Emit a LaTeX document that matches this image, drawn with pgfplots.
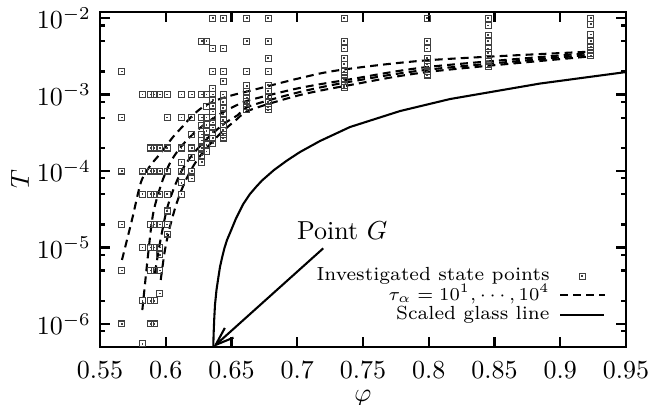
\documentclass[border=0pt]{standalone}
\usepackage{pgfplots}
\pgfplotsset{compat=1.18}
\usetikzlibrary{arrows.meta,calc}

% square with a small dot in the middle (gnuplot style)
\pgfdeclareplotmark{sqdot}{%
  \pgfpathrectangle{\pgfqpoint{-\pgfplotmarksize}{-\pgfplotmarksize}}{\pgfqpoint{2\pgfplotmarksize}{2\pgfplotmarksize}}%
  \pgfusepathqstroke
  \pgfpathrectangle{\pgfqpoint{-0.35pt}{-0.35pt}}{\pgfqpoint{0.7pt}{0.7pt}}%
  \pgfusepathqfill
}

\begin{document}
\begin{tikzpicture}
  \begin{axis}[
    scale only axis,
    width=202.3pt, height=128.85pt,
    ymode=log,
    xmin=0.55, xmax=0.95,
    ymin=5e-7, ymax=1.2e-2,
    xtick={0.55,0.6,0.65,0.7,0.75,0.8,0.85,0.9,0.95},
    xticklabels={0.55,0.6,0.65,0.7,0.75,0.8,0.85,0.9,0.95},
    ytick={1e-6,1e-5,1e-4,1e-3,1e-2},
    minor ytick={8e-7,2e-6,5e-6,8e-6,2e-5,5e-5,8e-5,2e-4,5e-4,8e-4,2e-3,5e-3,8e-3},
    tick align=inside,
    major tick length=3.85pt,
    minor tick length=1.9pt,
    every tick/.style={black, line width=0.8pt},
    axis line style={line width=0.8pt},
    xticklabel style={yshift=-2pt},
    ylabel={$T$},
    every axis y label/.style={at={(axis description cs:-0.152,0.5)}, anchor=center, rotate=90, inner sep=0pt},
    clip=false,
    legend plot pos=right,
    legend cell align=right,
    legend style={
      at={(axis description cs:0.962,0.241)}, anchor=north east,
      draw=none, fill=none, inner sep=0pt,
      font=\fontsize{7.3}{8}\selectfont,
      row sep=0pt, column sep=3pt,
      nodes={inner sep=0.6pt, text height=4.85pt, text depth=1.3pt},
    },
  ]
  \coordinate (ll) at (rel axis cs:0,0);

  \addplot[only marks, mark=sqdot, mark size=1.15pt, black!75, line width=0.4pt] table {
0.5667 2e-3
0.5667 5e-4
0.5667 1e-4
0.5667 2e-5
0.5667 5e-6
0.5667 1e-6
0.5823 1e-3
0.5823 1e-4
0.5823 5e-5
0.5823 1e-5
0.5823 2e-6
0.5823 5.5e-7
0.5884 1e-3
0.5884 2e-4
0.5884 1e-4
0.5884 5e-5
0.5884 2e-5
0.5884 1e-5
0.5884 5e-6
0.5884 2e-6
0.5884 1e-6
0.5911 1e-3
0.5911 2e-4
0.5911 1e-4
0.5911 5e-5
0.5911 2e-5
0.5911 1e-5
0.5911 5e-6
0.5911 2e-6
0.5911 1e-6
0.5956 1e-3
0.5956 2e-4
0.5956 1e-4
0.5956 5e-5
0.5956 2e-5
0.5956 1e-5
0.5956 8e-6
0.5956 5e-6
0.5956 2.5e-6
0.6010 1e-3
0.6010 5e-4
0.6010 2e-4
0.6010 1e-4
0.6010 5e-5
0.6010 3e-5
0.6010 2e-5
0.6010 1.5e-5
0.6120 1e-3
0.6120 5e-4
0.6120 2e-4
0.6120 1.3e-4
0.6120 1e-4
0.6120 7e-5
0.6120 5e-5
0.6197 1e-3
0.6197 5e-4
0.6197 3e-4
0.6197 2e-4
0.6197 1.5e-4
0.6197 1e-4
0.6197 8e-5
0.6273 5e-3
0.6273 1e-3
0.6273 5e-4
0.6273 3.9e-4
0.6273 3e-4
0.6273 2.5e-4
0.6273 2e-4
0.6273 1.6e-4
0.6273 1.3e-4
0.6310 5e-3
0.6310 1e-3
0.6310 7e-4
0.6310 5e-4
0.6310 4e-4
0.6310 3.3e-4
0.6310 2.7e-4
0.6310 2.2e-4
0.6310 1.8e-4
0.6357 1e-2
0.6357 4e-3
0.6357 2e-3
0.6357 1.2e-3
0.6357 1e-3
0.6357 8.5e-4
0.6357 7e-4
0.6357 6e-4
0.6357 5e-4
0.6357 4.3e-4
0.6357 3.7e-4
0.6357 3.2e-4
0.6357 2.7e-4
0.6357 2.3e-4
0.6438 1e-2
0.6438 4e-3
0.6438 2e-3
0.6438 1.5e-3
0.6438 1e-3
0.6438 8e-4
0.6438 6.6e-4
0.6438 5.6e-4
0.6438 4.6e-4
0.6438 4e-4
0.6438 3.4e-4
0.6438 3e-4
0.6438 2.7e-4
0.6616 1e-2
0.6616 5e-3
0.6616 2e-3
0.6616 1.3e-3
0.6616 1.1e-3
0.6616 9e-4
0.6616 8e-4
0.6616 7e-4
0.6616 6.3e-4
0.6778 1e-2
0.6778 5e-3
0.6778 3e-3
0.6778 2e-3
0.6778 1.33e-3
0.6778 1.1e-3
0.6778 9.3e-4
0.6778 8e-4
0.6778 6.9e-4
0.6778 6.3e-4
0.7357 1e-2
0.7357 5e-3
0.7357 4e-3
0.7357 3e-3
0.7357 2.5e-3
0.7357 2e-3
0.7357 1.8e-3
0.7357 1.6e-3
0.7357 1.47e-3
0.7357 1.33e-3
0.7357 1.25e-3
0.7988 1e-2
0.7988 5e-3
0.7988 4e-3
0.7988 3e-3
0.7988 2.5e-3
0.7988 2.3e-3
0.7988 2e-3
0.7988 1.8e-3
0.8453 1e-2
0.8453 8e-3
0.8453 6e-3
0.8453 5e-3
0.8453 4e-3
0.8453 3.5e-3
0.8453 3e-3
0.8453 2.7e-3
0.8453 2.5e-3
0.8453 2.3e-3
0.9232 1e-2
0.9232 8.3e-3
0.9232 6.1e-3
0.9232 5e-3
0.9232 4.2e-3
0.9232 3.8e-3
0.9232 3.45e-3
0.9232 3.2e-3
  };
  \addlegendentry{Investigated state points}

  % tau_alpha = 10^1 ... 10^4
  \addplot[black, line width=0.8pt, dash pattern=on 3pt off 2pt, smooth] table {
0.5667 6.87e-6
0.5743 2.29e-5
0.5812 7.18e-5
0.5880 1.16e-4
0.5956 1.67e-4
0.6055 2.78e-4
0.6131 3.87e-4
0.6200 5.24e-4
0.6283 6.87e-4
0.6390 8.48e-4
0.6511 9.85e-4
0.6641 1.12e-3
0.7021 1.64e-3
0.7325 2.09e-3
0.8010 2.82e-3
0.9203 3.62e-3
  };
  \addlegendentry{$\tau_\alpha=10^1,\cdots,10^4$}
  \addplot[black, line width=0.8pt, dash pattern=on 3pt off 2pt, smooth, forget plot] table {
0.5822 1.52e-6
0.5867 8.47e-6
0.5905 2.82e-5
0.5969 6.97e-5
0.6032 1.27e-4
0.6108 2.00e-4
0.6200 2.96e-4
0.6299 4.12e-4
0.6413 5.56e-4
0.6527 7.08e-4
0.6641 8.48e-4
0.7021 1.22e-3
0.7401 1.58e-3
0.8010 2.31e-3
0.9203 3.46e-3
  };
  \addplot[black, line width=0.8pt, dash pattern=on 3pt off 2pt, smooth, forget plot] table {
0.5918 4.64e-6
0.5956 1.15e-5
0.6007 3.09e-5
0.6057 5.65e-5
0.6116 9.71e-5
0.6184 1.48e-4
0.6261 2.12e-4
0.6352 3.05e-4
0.6451 4.24e-4
0.6549 5.40e-4
0.6641 7.08e-4
0.7021 1.08e-3
0.7401 1.47e-3
0.8010 2.13e-3
0.9203 3.28e-3
  };
  \addplot[black, line width=0.8pt, dash pattern=on 3pt off 2pt, smooth, forget plot] table {
0.5962 3.76e-6
0.5994 9.27e-6
0.6032 1.87e-5
0.6083 3.79e-5
0.6139 6.76e-5
0.6200 1.09e-4
0.6261 1.57e-4
0.6337 2.25e-4
0.6428 3.24e-4
0.6534 4.64e-4
0.6641 6.27e-4
0.7021 9.85e-4
0.7401 1.33e-3
0.8010 1.99e-3
0.9203 3.12e-3
  };

  % scaled glass line
  \addplot[black, line width=0.8pt] table {
0.63616 5.0e-7
0.63639 7.18e-7
0.63684 1.128e-6
0.63745 1.772e-6
0.63859 2.782e-6
0.63996 3.993e-6
0.64125 5.56e-6
0.64278 7.29e-6
0.64468 9.85e-6
0.64658 1.253e-5
0.64886 1.547e-5
0.65342 2.393e-5
0.65897 3.704e-5
0.66407 5.005e-5
0.66863 6.177e-5
0.67319 7.51e-5
0.68232 1.030e-4
0.69221 1.372e-4
0.70209 1.771e-4
0.71730 2.467e-4
0.74011 3.76e-4
0.77814 6.08e-4
0.81616 8.73e-4
0.88460 1.392e-3
0.95000 1.968e-3
  };
  \addlegendentry{Scaled glass line}

  \node[anchor=base west, inner sep=0pt] at (axis cs:0.6996,1.29e-5) {Point $G$};
  \draw[black, line width=0.8pt, -{Straight Barb[length=7pt,width=5pt]}]
    (axis cs:0.7198,9.76e-6) -- (axis cs:0.6362,5e-7);
  % x axis label
  \node[anchor=center, inner sep=0pt] at (axis description cs:0.5,-0.153) {$\varphi$};
  \end{axis}
  \pgfresetboundingbox
  \path[use as bounding box] ($(ll)+(-38.46pt,-22.31pt)$) rectangle ($(ll)+(213.85pt,133.46pt)$);
\end{tikzpicture}
\end{document}
